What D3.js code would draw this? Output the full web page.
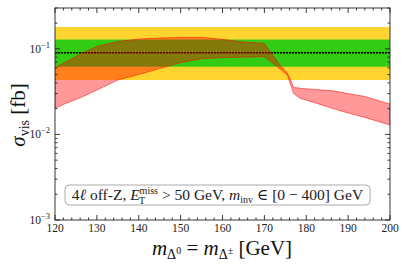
<!DOCTYPE html>
<html><head><meta charset="utf-8">
<script src="https://cdn.jsdelivr.net/npm/d3@7"></script>
<style>body{margin:0;background:#fff} svg{display:block}</style>
</head><body>
<svg id="c" width="407" height="268"></svg>
<script>
// ---- data ----
const masses = [120, 122.5, 125, 127.5, 130, 135, 140, 145, 150, 155, 160, 165, 170, 174, 175.5, 177, 178.5, 182, 186, 190, 194, 200];
const upperVis = [0.060, 0.070, 0.0813, 0.094, 0.1064, 0.122, 0.130, 0.134, 0.136, 0.136, 0.129, 0.120, 0.1156, 0.062, 0.052, 0.0355, 0.0346, 0.0335, 0.0325, 0.030, 0.0278, 0.0226];
const lowerVis = [0.0203, 0.0229, 0.0255, 0.0289, 0.033, 0.0432, 0.050, 0.059, 0.069, 0.0764, 0.079, 0.080, 0.081, 0.057, 0.049, 0.030, 0.0264, 0.0235, 0.0203, 0.0178, 0.0158, 0.0129];
const limitLine = 0.09;
const band1sigma = [0.0618, 0.1284];
const band2sigma = [0.0432, 0.180];
const xTickVals = [120, 130, 140, 150, 160, 170, 180, 190, 200];
const yTickExps = [-3, -2, -1];
const xDomain = [120, 200];
const yDomain = [1e-3, 0.3];

// ---- layout ----
const M = {l: 55, r: 390, t: 8, b: 220};
const svg = d3.select("#c");
const x = d3.scaleLinear().domain(xDomain).range([M.l, M.r]);
const y = d3.scaleLog().domain(yDomain).range([M.b, M.t]);
const serif = "'Liberation Serif', 'DejaVu Serif', serif";

svg.append("clipPath").attr("id", "pc").append("rect")
  .attr("x", M.l).attr("y", M.t).attr("width", M.r - M.l).attr("height", M.b - M.t);
const g = svg.append("g").attr("clip-path", "url(#pc)");

// bands
g.append("rect").attr("x", M.l).attr("width", M.r - M.l)
  .attr("y", y(band2sigma[1])).attr("height", y(band2sigma[0]) - y(band2sigma[1]))
  .attr("fill", "#ffd42f");
g.append("rect").attr("x", M.l).attr("width", M.r - M.l)
  .attr("y", y(band1sigma[1])).attr("height", y(band1sigma[0]) - y(band1sigma[1]))
  .attr("fill", "#33cc14");

// limit line
g.append("line").attr("x1", M.l).attr("x2", M.r)
  .attr("y1", y(limitLine)).attr("y2", y(limitLine))
  .attr("stroke", "#000").attr("stroke-width", 1.6).attr("stroke-dasharray", "2.2,0.8");

// red band
const pts = masses.map((m, i) => ({m, u: upperVis[i], l: lowerVis[i]}));
const area = d3.area().x(d => x(d.m)).y0(d => y(d.l)).y1(d => y(d.u));
g.append("path").datum(pts).attr("d", area)
  .attr("fill", "red").attr("fill-opacity", 0.4)
  .attr("stroke", "red").attr("stroke-opacity", 0.5).attr("stroke-width", 1);

// ---- axes / frame ----
const ax = svg.append("g").attr("stroke", "#222").attr("stroke-width", 0.9);
ax.append("rect").attr("x", M.l).attr("y", M.t).attr("width", M.r - M.l).attr("height", M.b - M.t)
  .attr("fill", "none");

// x ticks
for (let v = xDomain[0]; v <= xDomain[1]; v += 2) {
  const major = v % 10 === 0;
  const len = major ? 5 : 2.5;
  const xp = x(v);
  ax.append("line").attr("x1", xp).attr("x2", xp).attr("y1", M.b).attr("y2", M.b - len);
  ax.append("line").attr("x1", xp).attr("x2", xp).attr("y1", M.t).attr("y2", M.t + len);
}
svg.append("g").selectAll("text").data(xTickVals).join("text")
  .attr("x", d => x(d)).attr("y", 232).attr("text-anchor", "middle")
  .attr("font-family", serif).attr("font-size", 11.5).attr("fill", "#222")
  .text(d => d);

// y ticks
for (let e = -3; e <= -1; e++) {
  for (let k = 1; k <= 9; k++) {
    const v = k * Math.pow(10, e);
    if (v < yDomain[0] * 0.999 || v > yDomain[1] * 1.001) continue;
    const len = k === 1 ? 5 : 2.5;
    const yp = y(v);
    ax.append("line").attr("x1", M.l).attr("x2", M.l + len).attr("y1", yp).attr("y2", yp);
    ax.append("line").attr("x1", M.r).attr("x2", M.r - len).attr("y1", yp).attr("y2", yp);
  }
}
const yt = svg.append("g").selectAll("text").data(yTickExps).join("text")
  .attr("x", 50).attr("y", d => y(Math.pow(10, d)) + 4).attr("text-anchor", "end")
  .attr("font-family", serif).attr("font-size", 11.5).attr("fill", "#222");
yt.append("tspan").text("10");
yt.append("tspan").attr("dy", -5).attr("font-size", 8.5).text(d => "\u2212" + (-d));

// axis labels
const xl = svg.append("text").attr("x", 222).attr("y", 255).attr("text-anchor", "middle")
  .attr("font-family", serif).attr("font-size", 21).attr("fill", "#111");
xl.append("tspan").attr("font-style", "italic").text("m");
xl.append("tspan").attr("font-size", 14).attr("dy", 4).text("Δ");
xl.append("tspan").attr("font-size", 10).attr("dy", -5).text("0");
xl.append("tspan").attr("dy", 1).text(" = ");
xl.append("tspan").attr("font-style", "italic").text("m");
xl.append("tspan").attr("font-size", 14).attr("dy", 4).text("Δ");
xl.append("tspan").attr("font-size", 10).attr("dy", -5).text("±");
xl.append("tspan").attr("dy", 1).text(" [GeV]");

const yl = svg.append("text").attr("transform", "translate(25,115) rotate(-90)")
  .attr("text-anchor", "middle").attr("font-family", serif).attr("font-size", 21).attr("fill", "#111");
yl.append("tspan").attr("font-style", "italic").text("σ");
yl.append("tspan").attr("font-size", 14).attr("dy", 4).text("vis");
yl.append("tspan").attr("dy", -4).text(" [fb]");

// annotation box
svg.append("rect").attr("x", 65).attr("y", 185).attr("width", 305).attr("height", 20).attr("rx", 4)
  .attr("fill", "#fff").attr("fill-opacity", 0.85).attr("stroke", "#aaa").attr("stroke-width", 1);
const at = svg.append("text").attr("x", 217.5).attr("y", 200).attr("text-anchor", "middle")
  .attr("font-family", serif).attr("font-size", 15.5).attr("fill", "#222");
at.append("tspan").text("4");
at.append("tspan").attr("font-style", "italic").text("ℓ");
at.append("tspan").text(" off-Z, ");
at.append("tspan").attr("font-style", "italic").text("E");
at.append("tspan").attr("font-size", 10).attr("dy", -6).text("miss");
at.append("tspan").attr("font-size", 10).attr("dy", 10).attr("dx", -19).text("T");
at.append("tspan").attr("dy", -4).attr("dx", 13).text(" > 50 GeV, ");
at.append("tspan").attr("font-style", "italic").text("m");
at.append("tspan").attr("font-size", 10).attr("dy", 3).text("inv");
at.append("tspan").attr("dy", -3).text(" ∈ [0 − 400] GeV");
</script>
</body></html>
